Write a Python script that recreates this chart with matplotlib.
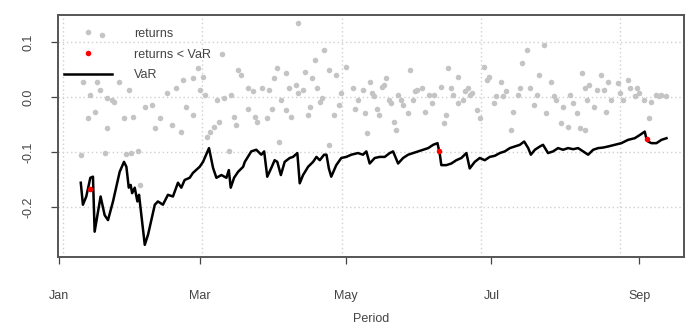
import numpy as np
import pandas as pd
import matplotlib
matplotlib.use("Agg")
import matplotlib.pyplot as plt
import matplotlib.dates as mdates
from matplotlib.lines import Line2D

plt.rcParams['font.family'] = ['Liberation Sans', 'DejaVu Sans']

# ---- data (days counted from 1 Jan 2021) ----
start = pd.Timestamp('2021-01-01')

ret_day = [9, 10, 12, 13, 15, 16, 17, 18, 19, 20, 20, 22, 23, 25, 27, 28, 29, 30, 31,
           33, 34, 36, 39, 40, 42, 45, 47, 49, 51, 52, 53, 56, 56, 58, 59, 60, 61,
           62, 63, 65, 66, 67, 68, 69, 71, 72, 73, 74, 75, 76, 79, 79, 81, 82, 83,
           85, 87, 88, 89, 90, 91, 92, 93, 95, 95, 96, 97, 99, 100, 100, 102, 103,
           104, 105, 106, 107, 108, 109, 110, 111, 113, 113, 115, 116, 117, 118, 120,
           123, 124, 125, 127, 128, 129, 130, 131, 132, 133, 134, 135, 136, 137, 138,
           139, 140, 141, 142, 143, 144, 146, 147, 148, 149, 150, 152, 153, 155, 156,
           157, 160, 161, 162, 163, 164, 165, 167, 167, 169, 170, 171, 172, 173, 175,
           176, 178, 179, 180, 182, 183, 185, 186, 187, 189, 190, 192, 193, 194, 196,
           197, 199, 200, 201, 203, 204, 206, 207, 208, 210, 211, 213, 214, 215, 217,
           218, 219, 220, 220, 221, 222, 224, 225, 227, 228, 229, 230, 231, 234, 235,
           236, 238, 239, 241, 242, 243, 245, 247, 248, 250, 251, 252, 254]
ret_val = [-0.105, 0.028, -0.039, 0.004, -0.027, 0.028, 0.013, 0.113, -0.101, -0.057,
           -0.002, -0.005, -0.009, 0.028, -0.039, -0.104, 0.013, -0.101, -0.036,
           -0.098, -0.160, -0.018, -0.015, -0.057, -0.039, 0.007, -0.051, 0.016, -0.063,
           0.031, -0.018, 0.034, -0.033, 0.052, 0.013, 0.037, 0.004,
           -0.072, -0.063, -0.054, -0.005, -0.045, 0.079, -0.002, -0.099, 0.004, -0.036,
           -0.051, 0.049, 0.040, 0.016, -0.021, 0.010, -0.036, -0.045,
           0.016, -0.039, 0.013, -0.021, 0.034, 0.052, -0.081, -0.005, 0.043, -0.024,
           0.016, -0.036, 0.022, 0.134, 0.007, 0.013, 0.046,
           -0.033, -0.018, 0.034, 0.067, 0.016, -0.009, -0.002, 0.085, -0.087, 0.049,
           -0.033, 0.040, -0.015, 0.007, 0.055,
           0.016, -0.021, -0.005, 0.013, -0.030, -0.066, 0.028, 0.007, 0.001, -0.021,
           -0.033, 0.019, 0.022, 0.034, -0.005,
           -0.011, -0.045, -0.060, 0.004, -0.005, -0.015, -0.030, 0.049, -0.005, 0.010,
           0.013, 0.016, -0.027, 0.004, -0.011,
           0.004, 0.019, -0.048, -0.033, 0.052, 0.016, 0.004, 0.037, -0.011, -0.005,
           0.010, 0.016, 0.004, 0.007, -0.024,
           -0.039, 0.055, 0.031, 0.037, -0.011, 0.001, 0.028, 0.001, 0.010, -0.060,
           -0.027, 0.004, 0.016, 0.061, 0.085,
           0.016, -0.015, 0.004, 0.040, 0.095, -0.030, 0.028, 0.001, -0.005, -0.048,
           -0.018, -0.054, 0.004, -0.011, -0.030,
           -0.057, 0.043, 0.016, -0.060, -0.005, 0.022, -0.018, 0.013, 0.040, 0.013,
           -0.027, 0.028, -0.005, 0.025, 0.007,
           -0.005, 0.031, 0.016, 0.001, 0.016, 0.007, -0.005, -0.039, -0.009, 0.004,
           0.001, 0.004, 0.001]

# returns that fell below the VaR estimate
breach_day = [13, 159, 246]
breach_val = [-0.167, -0.098, -0.076]

var_day = [9.0, 9.9, 11.3, 13.0, 14.1, 14.8, 17.3, 19.0, 20.4, 22.5, 25.3, 27.1, 28.1,
           29.1, 29.9, 30.5, 31.6, 32.7, 33.4, 35.8, 37.2, 40.0, 41.3, 43.4, 45.5,
           47.6, 49.7, 51.1, 52.5, 54.6, 56.0, 58.8, 60.2, 62.7, 64.4, 65.8, 67.9,
           70.0, 71.0, 71.8, 73.2, 74.9, 77.0, 77.7, 80.4, 82.5, 84.6, 85.8, 87.1,
           88.8, 90.2, 91.3, 92.8, 94.4, 96.5, 97.9, 99.7, 100.7, 102.1, 104.2, 106.3,
           107.7, 109.1, 110.9, 111.9, 112.9, 113.9, 116.0, 118.1, 120.2, 122.3,
           125.1, 127.2, 128.6, 130.0, 132.1, 134.2, 136.3, 138.4, 139.8, 141.9,
           144.0, 146.1, 150.3, 152.4, 154.5, 156.6, 158.4, 159.4, 160.0, 162.1,
           164.2, 166.3, 168.4, 170.5, 171.9, 174.0, 176.1, 178.2, 180.3, 182.4,
           184.5, 186.6, 188.7, 190.8, 192.9, 194.7, 196.4, 197.5, 199.2, 201.3,
           202.6, 204.7, 206.8, 208.9, 211.0, 213.1, 215.2, 217.3, 219.4, 221.5,
           223.6, 225.7, 227.8, 229.9, 232.7, 235.4, 238.2, 241.0, 243.2, 245.2,
           245.9, 246.6, 248.0, 250.1, 252.2, 254.3]
var_val = [-0.156, -0.196, -0.181, -0.147, -0.145, -0.245, -0.181, -0.215, -0.224,
           -0.190, -0.136, -0.118, -0.127, -0.165, -0.160, -0.175, -0.165, -0.190,
           -0.178, -0.269, -0.250, -0.196, -0.190, -0.196, -0.178, -0.181, -0.156,
           -0.165, -0.151, -0.147, -0.138, -0.127, -0.118, -0.093, -0.129, -0.147,
           -0.142, -0.147, -0.133, -0.165, -0.147, -0.136, -0.127, -0.118, -0.099,
           -0.096, -0.105, -0.099, -0.145, -0.129, -0.115, -0.118, -0.142, -0.118,
           -0.111, -0.109, -0.102, -0.157, -0.142, -0.127, -0.118, -0.109, -0.115,
           -0.105, -0.105, -0.130, -0.145, -0.124, -0.111, -0.109, -0.105, -0.102,
           -0.105, -0.099, -0.121, -0.111, -0.109, -0.109, -0.102, -0.099, -0.121,
           -0.111, -0.105, -0.099, -0.096, -0.093, -0.087, -0.084, -0.105, -0.124,
           -0.124, -0.121, -0.115, -0.111, -0.102, -0.130, -0.118, -0.111, -0.115,
           -0.109, -0.107, -0.102, -0.099, -0.093, -0.090, -0.087, -0.081, -0.093,
           -0.105, -0.096, -0.090, -0.087, -0.102, -0.099, -0.093, -0.096, -0.093,
           -0.095, -0.093, -0.099, -0.105, -0.096, -0.093, -0.092, -0.090, -0.087,
           -0.084, -0.078, -0.075, -0.069, -0.063, -0.076, -0.081, -0.084, -0.084,
           -0.078, -0.075]


def to_dates(days):
    return start + pd.to_timedelta(np.asarray(days, dtype=float), unit='D')


fig = plt.figure(figsize=(7, 3.35), dpi=100)
ax = fig.add_axes([0.083, 0.233, 0.894, 0.722])

# grid first so data sits on top
for d in np.arange(1.6, 240, 58.3):
    ax.axvline(start + pd.Timedelta(days=d), color='#d0d0d0', lw=1.0,
               ls=(0, (1, 2)), zorder=0)
for yv in [-0.2, -0.1, 0.0, 0.1]:
    ax.axhline(yv, color='#d0d0d0', lw=1.0, ls=(0, (1, 2)), zorder=0)

ax.scatter(to_dates(ret_day), ret_val, s=16, color='#c4c4c4', lw=0, zorder=2)
ax.plot(to_dates(var_day), var_val, color='black', lw=1.8, zorder=3)
ax.scatter(to_dates(breach_day), breach_val, s=16, color='red', lw=0, zorder=4)

ax.set_xlim(start - pd.Timedelta(days=0.5), start + pd.Timedelta(days=261.6))
ax.set_ylim(-0.291, 0.149)

ax.xaxis.set_major_locator(mdates.MonthLocator(bymonth=[1, 3, 5, 7, 9]))
ax.xaxis.set_major_formatter(mdates.DateFormatter('%b'))
ax.set_yticks([-0.2, -0.1, 0.0, 0.1])
ax.set_yticklabels(['-0.2', '-0.1', '0.0', '0.1'], rotation=90, va='center')

ax.tick_params(axis='both', labelsize=9, colors='#444444', length=5, width=0.9)
ax.tick_params(axis='x', pad=19)
ax.tick_params(axis='y', pad=12)
for s in ax.spines.values():
    s.set_color('#555555')
    s.set_linewidth(1.4)

ax.set_xlabel('Period', fontsize=9, color='#444444', labelpad=8)

handles = [Line2D([], [], ls='none', marker='o', ms=4, color='#c4c4c4', mec='none'),
           Line2D([], [], ls='none', marker='o', ms=4, color='red', mec='none'),
           Line2D([], [], color='black', lw=1.8)]
ax.legend(handles, ['returns', 'returns < VaR', 'VaR'], loc='upper left',
          bbox_to_anchor=(0.0, 0.973), frameon=False, fontsize=9,
          handlelength=3.8, handletextpad=1.75, labelspacing=0.7,
          borderaxespad=0.1, labelcolor='#444444')

fig.savefig('out.png', dpi=100)
